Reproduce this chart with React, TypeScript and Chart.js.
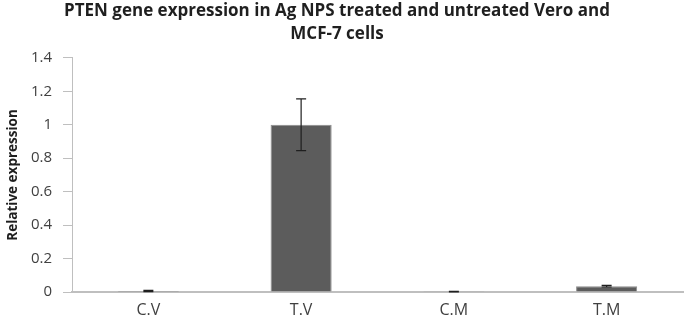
import React, { useEffect, useRef } from "react";
import { Chart, registerables } from "chart.js";

Chart.register(...registerables);

const categories = ["C.V", "T.V", "C.M", "T.M"];
const values = [0.006, 1.0, 0.001, 0.035];
const errors = [0.004, 0.155, 0.003, 0.005];
const titleLines = ["PTEN gene expression in Ag NPS treated and untreated Vero and", "MCF-7 cells"];

const errorBarPlugin = {
  id: "errorBars",
  afterLayout(chart: any) {
    const tb = chart.titleBlock;
    if (tb) {
      tb.left -= 7;
      tb.right -= 7;
    }
  },
  afterDatasetsDraw(chart: any) {
    const meta = chart.getDatasetMeta(0);
    const y = chart.scales.y;
    const ctx = chart.ctx;
    ctx.save();
    ctx.strokeStyle = "#1f1f1f";
    ctx.lineWidth = 1.2;
    meta.data.forEach((bar: any, i: number) => {
      const v = values[i];
      const e = errors[i];
      const yTop = y.getPixelForValue(v + e);
      const yBot = y.getPixelForValue(Math.max(0, v - e));
      const x = bar.x;
      const cap = 5;
      ctx.beginPath();
      ctx.moveTo(x, yTop);
      ctx.lineTo(x, yBot);
      ctx.moveTo(x - cap, yTop);
      ctx.lineTo(x + cap, yTop);
      ctx.moveTo(x - cap, yBot);
      ctx.lineTo(x + cap, yBot);
      ctx.stroke();
    });
    ctx.restore();
  },
};

export default function App() {
  const ref = useRef<HTMLCanvasElement | null>(null);
  useEffect(() => {
    if (!ref.current) return;
    const chart = new Chart(ref.current, {
      type: "bar",
      data: {
        labels: categories,
        datasets: [
          {
            data: values,
            backgroundColor: "#5c5c5c",
            borderColor: "#8c8c8c",
            borderWidth: 1,
            barPercentage: 0.4,
            categoryPercentage: 1.0,
          },
        ],
      },
      plugins: [errorBarPlugin],
      options: {
        animation: false,
        responsive: false,
        maintainAspectRatio: false,
        layout: { padding: { left: 5, right: 2, top: 0, bottom: 0 } },
        plugins: {
          legend: { display: false },
          tooltip: { enabled: false },
          title: {
            display: true,
            text: titleLines,
            color: "#1f1f1f",
            font: { family: "'Open Sans', sans-serif", size: 17, weight: "bold", lineHeight: 1.35 },
            padding: { top: 0, bottom: 12 },
          },
        },
        scales: {
          x: {
            afterFit(scale: any) {
              scale.height = 27;
            },
            grid: { display: false, drawTicks: false },
            border: { display: true, color: "#bfbfbf", width: 2 },
            ticks: {
              color: "#404040",
              padding: 9,
              font: { family: "'Open Sans', sans-serif", size: 16 },
            },
          },
          y: {
            min: 0,
            max: 1.4,
            afterFit(scale: any) {
              scale.width = 67;
            },
            grid: {
              drawOnChartArea: false,
              drawTicks: true,
              tickLength: 9,
              color: "#bfbfbf",
            },
            border: { display: true, color: "#bfbfbf", width: 1 },
            ticks: {
              stepSize: 0.2,
              color: "#404040",
              padding: 11,
              font: { family: "'Open Sans', sans-serif", size: 15 },
              callback: (v: any) => String(Number(Number(v).toFixed(1))),
            },
            title: {
              display: true,
              text: "Relative expression",
              color: "#1f1f1f",
              font: { family: "'Open Sans', sans-serif", size: 13.5, weight: "bold" },
              padding: { top: 0, bottom: 4 },
            },
          },
        },
      },
    });
    return () => chart.destroy();
  }, []);
  return (
    <div style={{ position: "fixed", left: 0, top: 0, width: 685, height: 319, background: "#fff" }}>
      <canvas ref={ref} width={685} height={319} style={{ width: 685, height: 319 }} />
    </div>
  );
}
